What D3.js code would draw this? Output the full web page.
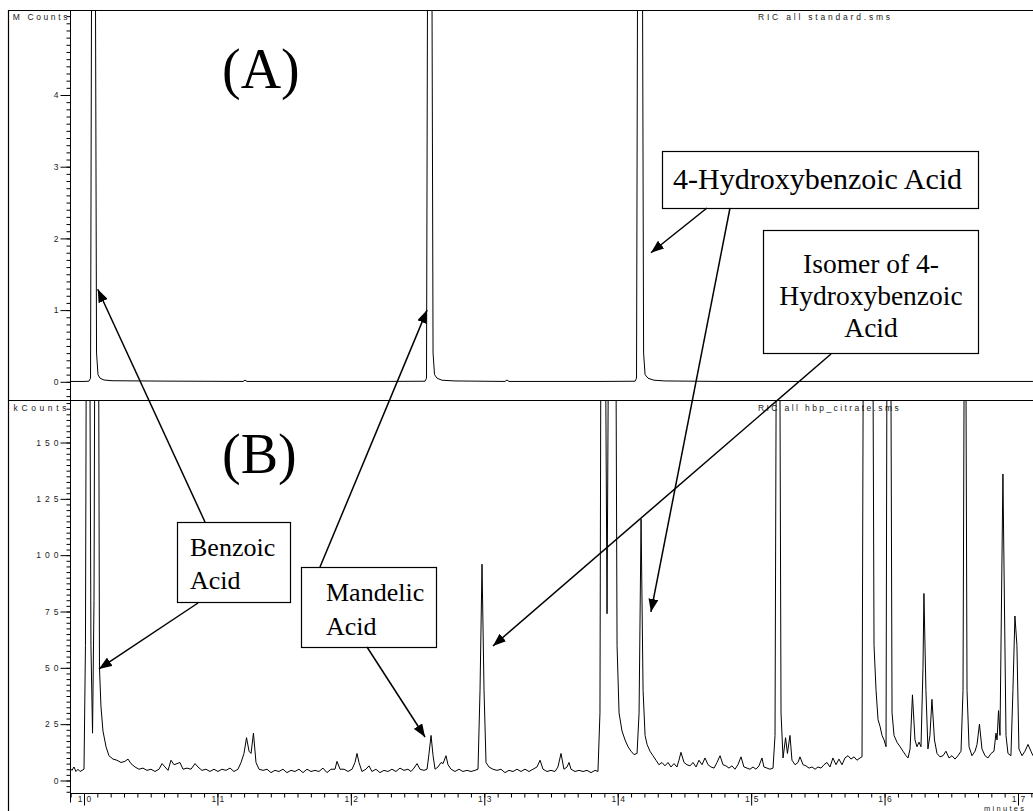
<!DOCTYPE html>
<html>
<head>
<meta charset="utf-8">
<script src="https://cdn.jsdelivr.net/npm/d3@7"></script>
<style>
  body { margin: 0; background: #fff; }
  svg { display: block; background: #fff; }
  .ax text { font-family: "Liberation Sans", Arial, sans-serif; font-size: 8.5px; fill: #222; letter-spacing: 4px; }
  .ax line { stroke: #000; stroke-width: 1; }
  .small { font-family: "Liberation Sans", Arial, sans-serif; font-size: 8.5px; fill: #222; }
  .note { font-family: "Liberation Serif", "Times New Roman", serif; fill: #000; }
</style>
</head>
<body>
<div id="chart"></div>
<script>
// Panel A: RIC all standard.sms (MCounts)
const timesA = [9.895, 10.000, 10.037, 10.049, 10.060, 10.082, 10.094, 10.105, 10.120, 10.150,
  10.210, 10.570, 11.192, 11.207, 11.222, 12.218, 12.556, 12.567, 12.578, 12.604,
  12.616, 12.627, 12.646, 12.683, 12.780, 13.155, 13.170, 13.185, 13.867, 14.130,
  14.141, 14.152, 14.182, 14.194, 14.205, 14.227, 14.272, 14.354, 14.767, 17.112];
const mCountsA = [0.005, 0.005, 0.008, 0.05, 8, 8, 0.4, 0.1, 0.05, 0.025,
  0.015, 0.01, 0.005, 0.022, 0.005, 0.005, 0.008, 0.05, 8, 8,
  0.4, 0.1, 0.05, 0.022, 0.012, 0.005, 0.025, 0.005, 0.005, 0.008,
  0.05, 8, 8, 0.4, 0.1, 0.05, 0.022, 0.012, 0.005, 0.005];

// Panel B: RIC all hbp_citrate.sms (kCounts)
const timesB = [
  9.895, 9.910, 9.925, 9.940, 9.955, 9.970, 9.985, 10.000, 10.011, 10.022,
  10.037, 10.052, 10.064, 10.075, 10.086, 10.105, 10.116, 10.127, 10.142, 10.165,
  10.187, 10.217, 10.247, 10.277, 10.307, 10.330, 10.352, 10.382, 10.412, 10.442,
  10.472, 10.502, 10.532, 10.562, 10.585, 10.607, 10.630, 10.652, 10.675, 10.697,
  10.719, 10.742, 10.772, 10.802, 10.832, 10.854, 10.884, 10.914, 10.944, 10.974,
  11.004, 11.034, 11.064, 11.094, 11.124, 11.154, 11.177, 11.199, 11.218, 11.237,
  11.252, 11.270, 11.289, 11.312, 11.342, 11.372, 11.401, 11.431, 11.461, 11.491,
  11.521, 11.551, 11.581, 11.611, 11.641, 11.671, 11.701, 11.731, 11.761, 11.791,
  11.821, 11.851, 11.881, 11.896, 11.919, 11.949, 11.979, 12.009, 12.031, 12.046,
  12.061, 12.083, 12.113, 12.136, 12.158, 12.188, 12.218, 12.248, 12.278, 12.308,
  12.338, 12.368, 12.398, 12.428, 12.451, 12.473, 12.496, 12.518, 12.548, 12.571,
  12.586, 12.601, 12.616, 12.631, 12.653, 12.676, 12.691, 12.713, 12.728, 12.751,
  12.780, 12.810, 12.840, 12.870, 12.900, 12.930, 12.953, 12.968, 12.983, 12.998,
  13.013, 13.035, 13.065, 13.095, 13.125, 13.155, 13.185, 13.215, 13.245, 13.275,
  13.305, 13.335, 13.365, 13.395, 13.418, 13.440, 13.470, 13.500, 13.530, 13.552,
  13.575, 13.597, 13.620, 13.635, 13.650, 13.680, 13.710, 13.740, 13.770, 13.800,
  13.830, 13.852, 13.867, 13.878, 13.893, 13.908, 13.920, 13.931, 13.942, 13.980,
  13.995, 14.010, 14.032, 14.055, 14.077, 14.100, 14.122, 14.145, 14.160, 14.175,
  14.190, 14.205, 14.220, 14.242, 14.264, 14.287, 14.309, 14.332, 14.354, 14.377,
  14.399, 14.422, 14.444, 14.459, 14.474, 14.497, 14.519, 14.542, 14.564, 14.587,
  14.609, 14.632, 14.654, 14.677, 14.699, 14.722, 14.744, 14.767, 14.789, 14.811,
  14.834, 14.856, 14.879, 14.901, 14.924, 14.946, 14.969, 14.991, 15.014, 15.036,
  15.059, 15.081, 15.096, 15.119, 15.141, 15.164, 15.179, 15.194, 15.209, 15.224,
  15.239, 15.258, 15.272, 15.291, 15.306, 15.329, 15.351, 15.366, 15.389, 15.411,
  15.434, 15.456, 15.479, 15.501, 15.524, 15.546, 15.568, 15.591, 15.613, 15.636,
  15.658, 15.681, 15.703, 15.726, 15.748, 15.771, 15.793, 15.816, 15.831, 15.846,
  15.868, 15.887, 15.906, 15.921, 15.936, 15.951, 15.966, 15.981, 15.996, 16.011,
  16.022, 16.041, 16.056, 16.071, 16.093, 16.116, 16.138, 16.161, 16.176, 16.191,
  16.209, 16.228, 16.243, 16.258, 16.273, 16.288, 16.295, 16.310, 16.325, 16.340,
  16.355, 16.374, 16.393, 16.415, 16.438, 16.460, 16.483, 16.505, 16.528, 16.550,
  16.573, 16.588, 16.603, 16.618, 16.633, 16.655, 16.678, 16.693, 16.711, 16.730,
  16.753, 16.775, 16.798, 16.820, 16.835, 16.843, 16.854, 16.865, 16.887, 16.910,
  16.925, 16.947, 16.962, 16.977, 16.992, 17.007, 17.030, 17.052, 17.075, 17.097,
  17.112];
const kCountsB = [
  5.5, 4.5, 6, 4, 5, 4, 4.5, 5, 60, 300,
  300, 60, 21, 80, 300, 300, 50, 33, 22, 15,
  11, 9.5, 9, 8, 8.5, 9.5, 7.5, 6, 5, 5.5,
  4.5, 5, 4, 5, 7.5, 6, 4.5, 9, 7, 7.5,
  8, 5, 5.5, 5, 7.5, 6, 4.5, 5, 4, 5,
  4, 5, 4.5, 5.5, 4, 5, 8, 12, 19, 13,
  12, 21, 8, 5, 4.5, 5, 3.5, 4.5, 4, 5,
  3.5, 4.5, 4, 5, 3.5, 5, 4, 4.5, 4, 5.5,
  3.5, 5, 5, 8.5, 5, 5, 4, 5, 8, 12,
  8, 4, 5, 6.5, 4, 5, 3.5, 4.5, 4, 5,
  4, 5.5, 4.5, 5, 4, 5.5, 7.5, 5, 4.5, 5,
  12, 20, 11, 5, 6, 8, 7.5, 11, 7, 5,
  4, 5, 4, 4.5, 4, 4.5, 5, 40, 96, 40,
  8, 6, 5, 4.5, 5, 3.5, 4.5, 4, 5, 4,
  5, 4, 5, 6, 9, 5, 4, 4.5, 4, 6,
  12, 5, 6, 8, 5, 4, 4.5, 4, 4.5, 3.5,
  4.5, 4, 30, 300, 300, 200, 74, 200, 300, 300,
  60, 30, 22, 18, 15, 13, 11.5, 12, 30, 116,
  40, 20, 16, 13, 11, 9, 7, 8, 6.5, 8,
  6, 7.5, 6, 9, 12.5, 8, 7, 6.5, 8, 6,
  9, 7, 10, 7, 6, 5.5, 8, 11, 7, 6.5,
  5.5, 6.5, 5, 7, 10.5, 6, 5.5, 5, 6, 5,
  6.5, 10, 6, 5.5, 5, 5.5, 20, 300, 300, 30,
  10, 19, 12, 20, 9, 7, 8, 10.5, 7, 6.5,
  5.5, 6, 5, 6, 5.5, 7, 8, 6, 10, 7,
  9.5, 7, 10, 11, 9.5, 10.5, 9, 10, 10.5, 300,
  300, 250, 300, 60, 40, 27, 24, 20, 18, 15,
  300, 300, 30, 20, 17, 15, 13, 11, 10, 14,
  38, 18, 15, 17, 15, 50, 83, 40, 14, 20,
  36, 18, 12, 10.5, 11, 13, 10, 11, 9.5, 11,
  13, 40, 300, 40, 15, 11, 13, 16, 25, 14,
  11, 10, 12, 13, 21, 18, 31, 20, 136, 20,
  12, 11, 40, 73, 60, 14, 11, 13, 16, 13,
  11];

// Axis ticks
const xTicks = [10, 11, 12, 13, 14, 15, 16, 17];
const yTicksA = [0, 1, 2, 3, 4];
const yTicksB = [0, 25, 50, 75, 100, 125, 150];

// Annotations: box text and the peaks their arrows point at [min, counts]
const noteBoxes = [
  { lines: ["Benzoic", "Acid"], x: 177.5, y: 522.5, w: 113, h: 80, tx: 190, ty: [556, 589], anchor: "start", size: 26 },
  { lines: ["Mandelic", "Acid"], x: 301.5, y: 567.5, w: 135, h: 80, tx: 326, ty: [601, 635], anchor: "start", size: 26 },
  { lines: ["4-Hydroxybenzoic Acid"], x: 662.5, y: 151.5, w: 316, h: 57, tx: 673, ty: [189], anchor: "start", size: 30 },
  { lines: ["Isomer of 4-", "Hydroxybenzoic", "Acid"], x: 763.5, y: 230.5, w: 215, h: 123, tx: 871, ty: [273, 305, 337], anchor: "middle", size: 27.5 }
];
const arrowNotes = [
  { from: [205, 522], panel: "A", t: 10.103, v: 1.29 },
  { from: [198, 603], panel: "B", t: 10.112, v: 49.5 },
  { from: [320, 567], panel: "A", t: 12.571, v: 1.0 },
  { from: [367, 647], panel: "B", t: 12.556, v: 19.3 },
  { from: [707, 208], panel: "A", t: 14.249, v: 1.8 },
  { from: [730, 208], panel: "B", t: 14.249, v: 74.8 },
  { from: [831, 354], panel: "B", t: 13.065, v: 59.7 }
];

const width = 1033, height = 811;
const left = 70.5, topA = 10.5, sep = 400.5, bottom = 793.5;

const x = d3.scaleLinear().domain([10, 17]).range([84, 1018]);
const yA = d3.scaleLinear().domain([0, 4]).range([381.8, 95]);
const yB = d3.scaleLinear().domain([0, 150]).range([780.5, 442.5]);
const yScale = { A: yA, B: yB };

const svg = d3.select("#chart").append("svg")
    .attr("width", width)
    .attr("height", height)
    .attr("viewBox", [0, 0, width, height]);

const defs = svg.append("defs");
defs.append("marker")
    .attr("id", "head")
    .attr("viewBox", "0 0 13 10")
    .attr("refX", 13).attr("refY", 5)
    .attr("markerWidth", 13).attr("markerHeight", 10)
    .attr("markerUnits", "userSpaceOnUse")
    .attr("orient", "auto")
  .append("path")
    .attr("d", "M0,0L13,5L0,10Z")
    .attr("fill", "#000");

defs.append("clipPath").attr("id", "clipA").append("rect")
    .attr("x", left).attr("y", topA).attr("width", width - left).attr("height", sep - topA);
defs.append("clipPath").attr("id", "clipB").append("rect")
    .attr("x", left).attr("y", sep).attr("width", width - left).attr("height", bottom - sep);

// Frame and panel separator.
svg.append("path")
    .attr("d", `M8.5,${height}V${topA}H${width}M8.5,${sep}H${width}`)
    .attr("fill", "none")
    .attr("stroke", "#000")
    .attr("stroke-width", 1.2);

// Y axes (major + minor ticks).
function yAxis(scale, majors, step, y0, y1) {
    const lo = scale.invert(y1), hi = scale.invert(y0);
    const minors = d3.range(Math.ceil(lo / step), Math.floor(hi / step) + 1).map(i => i * step);
    const g = svg.append("g").attr("class", "ax").attr("transform", `translate(${left},0)`);
    g.append("g").call(d3.axisLeft(scale).tickValues(minors).tickSize(4).tickFormat(""))
        .call(s => s.select(".domain").remove());
    g.append("g").call(d3.axisLeft(scale).tickValues(majors).tickSize(10).tickPadding(0).tickFormat(d3.format("d")))
        .call(s => s.select(".domain").remove())
        .selectAll("text").attr("dx", "2px");
    g.append("line").attr("y1", y0).attr("y2", y1).attr("stroke", "#000");
    return g;
}
yAxis(yA, yTicksA, 0.1, topA, sep);
yAxis(yB, yTicksB, 2.5, sep, bottom);

// X axis.
const minorX = d3.range(99, 172).map(i => i / 10);
const gx = svg.append("g").attr("class", "ax").attr("transform", `translate(0,${bottom})`);
gx.append("g").call(d3.axisBottom(x).tickValues(minorX).tickSize(4).tickFormat(""))
    .call(s => s.select(".domain").remove());
gx.append("g").call(d3.axisBottom(x).tickValues(xTicks).tickSize(12).tickFormat(d3.format("d")))
    .call(s => s.select(".domain").remove())
    .selectAll("text").attr("y", 2.5).attr("dx", "2px");
gx.append("line").attr("x1", left).attr("x2", width).attr("stroke", "#000");
gx.append("line").attr("x1", left).attr("x2", left).attr("y2", 9).attr("stroke", "#000");

// Axis unit labels and file titles.
svg.append("text").attr("class", "small").attr("x", 70).attr("y", 20)
    .attr("text-anchor", "end").style("letter-spacing", "2.6px").text("M Counts");
svg.append("text").attr("class", "small").attr("x", 70).attr("y", 411)
    .attr("text-anchor", "end").style("letter-spacing", "3.6px").text("kCounts");
svg.append("text").attr("class", "small").attr("x", 758).attr("y", 20)
    .style("letter-spacing", "2.8px").text("RIC all standard.sms");
svg.append("text").attr("class", "small").attr("x", 758).attr("y", 411)
    .style("letter-spacing", "2.4px").text("RIC all hbp_citrate.sms");
svg.append("text").attr("class", "small").attr("x", 984).attr("y", 810.5)
    .style("font-size", "7.5px").style("letter-spacing", "2.3px").text("minutes");

// Chromatogram traces.
const lineA = d3.line().x(d => x(d[0])).y(d => yA(d[1]));
const lineB = d3.line().x(d => x(d[0])).y(d => yB(d[1]));

svg.append("path")
    .datum(d3.zip(timesA, mCountsA))
    .attr("clip-path", "url(#clipA)")
    .attr("fill", "none")
    .attr("stroke", "#000")
    .attr("stroke-width", 1)
    .attr("d", lineA);

svg.append("path")
    .datum(d3.zip(timesB, kCountsB))
    .attr("clip-path", "url(#clipB)")
    .attr("fill", "none")
    .attr("stroke", "#000")
    .attr("stroke-width", 1)
    .attr("d", lineB);

// Panel letters.
svg.append("text").attr("class", "note").attr("x", 222).attr("y", 88)
    .style("font-size", "56px").text("(A)");
svg.append("text").attr("class", "note").attr("x", 222).attr("y", 473)
    .style("font-size", "56px").text("(B)");

// Label boxes.
const boxes = svg.selectAll(".box")
    .data(noteBoxes)
    .enter()
    .append("g")
    .attr("class", "box");
boxes.append("rect")
    .attr("x", d => d.x).attr("y", d => d.y)
    .attr("width", d => d.w).attr("height", d => d.h)
    .attr("fill", "#fff")
    .attr("stroke", "#000")
    .attr("stroke-width", 1.2);
boxes.each(function(d) {
    d.lines.forEach((s, i) => {
        d3.select(this).append("text")
            .attr("class", "note")
            .attr("x", d.tx)
            .attr("y", d.ty[i])
            .attr("text-anchor", d.anchor)
            .style("font-size", d.size + "px")
            .text(s);
    });
});

// Arrows from the boxes to the peaks.
svg.selectAll(".arrow")
    .data(arrowNotes)
    .enter()
    .append("line")
    .attr("class", "arrow")
    .attr("x1", d => d.from[0]).attr("y1", d => d.from[1])
    .attr("x2", d => x(d.t)).attr("y2", d => yScale[d.panel](d.v))
    .attr("stroke", "#000")
    .attr("stroke-width", 1.5)
    .attr("marker-end", "url(#head)");
</script>
</body>
</html>
